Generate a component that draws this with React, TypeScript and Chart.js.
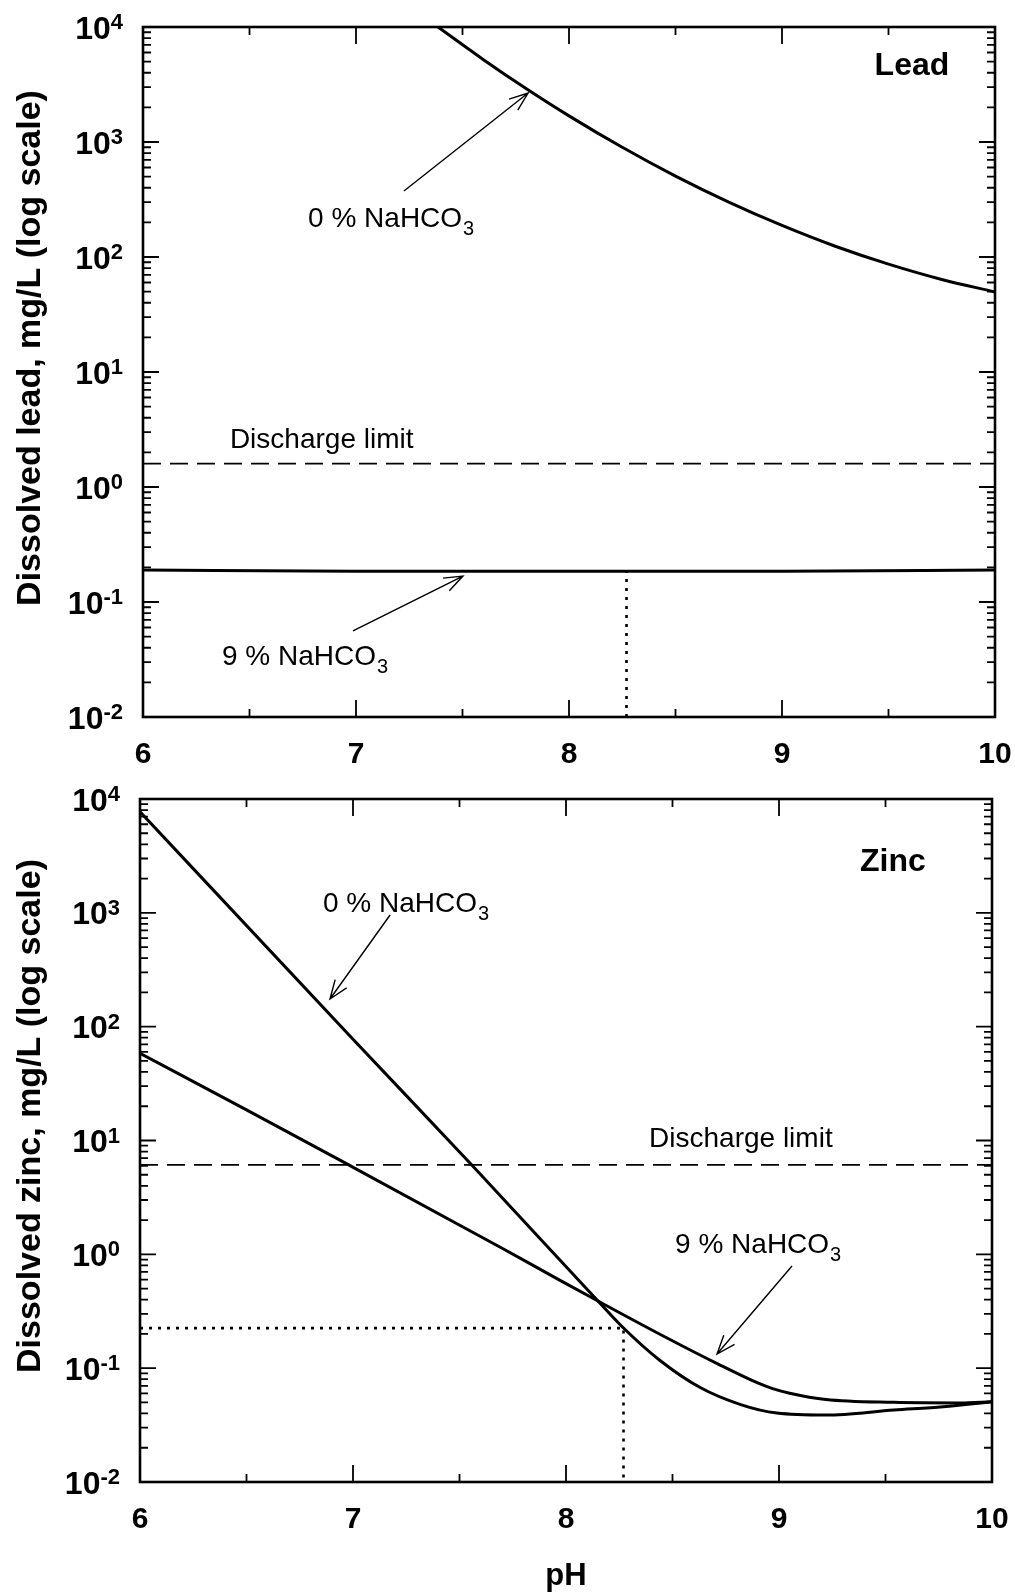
import React, { useEffect, useRef } from "react";
import { Chart, registerables } from "chart.js";

Chart.register(...registerables);

// ---------------- Data ----------------
const PH_MAJOR = [6, 7, 8, 9, 10];
const PH_MINOR = [6.5, 7.5, 8.5, 9.5];
const DECADES = [0.01, 0.1, 1, 10, 100, 1000, 10000];
const DECADE_EXP = ["-2", "-1", "0", "1", "2", "3", "4"];
const MINOR_MULT = [2, 3, 4, 5, 6, 7, 8, 9];

// Lead, 0 % NaHCO3
const leadPH0 = [7.385, 7.6, 7.8, 8.0, 8.25, 8.5, 8.75, 9.0, 9.25, 9.5, 9.75, 10.0];
const leadVal0 = [10000, 5174, 2904, 1687, 899, 505, 300, 188, 124, 86.7, 63.8, 49.7];
// Lead, 9 % NaHCO3
const leadPH9 = [6.0, 7.0, 8.0, 9.0, 10.0];
const leadVal9 = [0.19, 0.185, 0.185, 0.185, 0.19];
// Lead discharge limit
const leadLimitPH = [6, 10];
const leadLimitVal = [1.6, 1.6];
// Lead dotted marker (pH 8.27)
const leadDotPH = [8.27, 8.27];
const leadDotVal = [0.01, 0.185];

// Zinc, 0 % NaHCO3
const zincPH0 = [6.0, 7.0, 7.56, 8.15, 8.27, 8.44, 8.63, 8.82, 8.99, 9.22, 9.54, 9.77, 10.0];
const zincVal0 = [7727, 77.6, 6.03, 0.389, 0.2254, 0.1175, 0.0676, 0.0479, 0.0403, 0.0387, 0.0429, 0.0458, 0.0507];
// Zinc, 9 % NaHCO3
const zincPH9 = [6.0, 6.5, 6.98, 7.7, 7.97, 8.15, 8.47, 8.71, 8.9, 8.97, 9.05, 9.22, 9.54, 9.85, 10.0];
const zincVal9 = [58.3, 18.6, 6.1, 1.13, 0.594, 0.389, 0.186, 0.1096, 0.0741, 0.0661, 0.0603, 0.0531, 0.0501, 0.0495, 0.0507];
// Zinc discharge limit
const zincLimitPH = [6, 10];
const zincLimitVal = [6.1, 6.1];
// Zinc dotted marker
const zincDotPH = [6, 8.27, 8.27];
const zincDotVal = [0.225, 0.225, 0.01];

const FONT = '"Liberation Sans", Arial, Helvetica, sans-serif';
const W = 1015;

type Pt = { x: number; y: number };
const zip = (xs: number[], ys: number[]): Pt[] => xs.map((x, i) => ({ x, y: ys[i] }));

interface Note {
  text: string;
  sub?: string;
  x: number;
  y: number;
  bold?: boolean;
  size: number;
  align: CanvasTextAlign;
  middle?: boolean;
}
interface Arrow {
  x1: number;
  y1: number;
  x2: number;
  y2: number;
}
interface Area {
  left: number;
  right: number;
  top: number;
  bottom: number;
}
interface PanelProps {
  height: number;
  top: number;
  area: Area;
  datasets: any[];
  yTitle: string;
  yTitleCenter: number;
  xTitle?: string;
  xTitleBaseline?: number;
  notes: Note[];
  arrows: Arrow[];
}

const solid = (data: Pt[]) => ({
  data,
  borderColor: "#000",
  borderWidth: 3,
  pointRadius: 0,
  fill: false,
  cubicInterpolationMode: "monotone",
});
const dashed = (data: Pt[]) => ({
  data,
  borderColor: "#000",
  borderWidth: 1.8,
  borderDash: [18, 9],
  pointRadius: 0,
  fill: false,
  tension: 0,
});
const dotted = (data: Pt[]) => ({
  data,
  borderColor: "#000",
  borderWidth: 2.6,
  borderDash: [3, 6],
  pointRadius: 0,
  fill: false,
  tension: 0,
});

function Panel(props: PanelProps) {
  const ref = useRef<HTMLCanvasElement | null>(null);
  useEffect(() => {
    const canvas = ref.current;
    if (!canvas) return;
    const { area, height } = props;
    const decor = {
      id: "decor",
      afterDatasetsDraw(chart: any) {
        const ctx: CanvasRenderingContext2D = chart.ctx;
        const xs = chart.scales.x;
        const ys = chart.scales.y;
        const { left, right, top, bottom } = chart.chartArea;
        ctx.save();
        ctx.strokeStyle = "#000";
        ctx.fillStyle = "#000";
        // ticks
        ctx.lineWidth = 1.8;
        ctx.beginPath();
        DECADES.forEach((d) => {
          const y = ys.getPixelForValue(d);
          ctx.moveTo(left, y);
          ctx.lineTo(left + 16, y);
          ctx.moveTo(right, y);
          ctx.lineTo(right - 16, y);
        });
        DECADES.slice(0, -1).forEach((d) => {
          MINOR_MULT.forEach((m) => {
            const y = ys.getPixelForValue(d * m);
            ctx.moveTo(left, y);
            ctx.lineTo(left + 8, y);
            ctx.moveTo(right, y);
            ctx.lineTo(right - 8, y);
          });
        });
        PH_MAJOR.forEach((p) => {
          const x = xs.getPixelForValue(p);
          ctx.moveTo(x, bottom);
          ctx.lineTo(x, bottom - 17);
          ctx.moveTo(x, top);
          ctx.lineTo(x, top + 17);
        });
        PH_MINOR.forEach((p) => {
          const x = xs.getPixelForValue(p);
          ctx.moveTo(x, bottom);
          ctx.lineTo(x, bottom - 8);
          ctx.moveTo(x, top);
          ctx.lineTo(x, top + 8);
        });
        ctx.stroke();
        // frame
        ctx.lineWidth = 2.6;
        ctx.strokeRect(left, top, right - left, bottom - top);

        // y tick labels (10 with superscript exponent)
        const labelRight = left - 20;
        DECADES.forEach((d, i) => {
          const y = ys.getPixelForValue(d);
          const e = DECADE_EXP[i];
          ctx.font = `bold 22px ${FONT}`;
          const we = ctx.measureText(e).width;
          ctx.font = `bold 32px ${FONT}`;
          const w10 = ctx.measureText("10").width;
          ctx.textAlign = "left";
          ctx.textBaseline = "alphabetic";
          ctx.fillText("10", labelRight - we - w10, y + 11.5);
          ctx.font = `bold 22px ${FONT}`;
          ctx.fillText(e, labelRight - we, y + 2);
        });
        // x tick labels
        ctx.font = `bold 30px ${FONT}`;
        ctx.textAlign = "center";
        ctx.textBaseline = "alphabetic";
        PH_MAJOR.forEach((p) => {
          ctx.fillText(String(p), xs.getPixelForValue(p), bottom + 46);
        });
        // y title
        ctx.save();
        ctx.translate(31, props.yTitleCenter);
        ctx.rotate(-Math.PI / 2);
        ctx.textAlign = "center";
        ctx.textBaseline = "middle";
        ctx.font = `bold 34px ${FONT}`;
        ctx.fillText(props.yTitle, 0, 0);
        ctx.restore();
        // x title
        if (props.xTitle) {
          ctx.font = `bold 31px ${FONT}`;
          ctx.textAlign = "center";
          ctx.textBaseline = "alphabetic";
          ctx.fillText(props.xTitle, (left + right) / 2, props.xTitleBaseline || 0);
        }
        // notes
        props.notes.forEach((n) => {
          const x = xs.getPixelForValue(n.x);
          const y = ys.getPixelForValue(n.y);
          ctx.font = `${n.bold ? "bold " : ""}${n.size}px ${FONT}`;
          ctx.textAlign = n.align;
          ctx.textBaseline = n.middle ? "middle" : "alphabetic";
          ctx.fillText(n.text, x, y);
          if (n.sub) {
            const w = ctx.measureText(n.text).width;
            ctx.font = `${Math.round(n.size * 0.72)}px ${FONT}`;
            ctx.textAlign = "left";
            ctx.textBaseline = "alphabetic";
            ctx.fillText(n.sub, x + w + 1, y + 8);
          }
        });
        // arrows
        ctx.lineWidth = 1.4;
        props.arrows.forEach((a) => {
          const x1 = xs.getPixelForValue(a.x1);
          const y1 = ys.getPixelForValue(a.y1);
          const x2 = xs.getPixelForValue(a.x2);
          const y2 = ys.getPixelForValue(a.y2);
          const ang = Math.atan2(y2 - y1, x2 - x1);
          const L = 20;
          const s = 0.36;
          ctx.beginPath();
          ctx.moveTo(x1, y1);
          ctx.lineTo(x2, y2);
          ctx.moveTo(x2 - L * Math.cos(ang - s), y2 - L * Math.sin(ang - s));
          ctx.lineTo(x2, y2);
          ctx.lineTo(x2 - L * Math.cos(ang + s), y2 - L * Math.sin(ang + s));
          ctx.stroke();
        });
        ctx.restore();
      },
    };

    const chart = new Chart(canvas, {
      type: "line",
      data: { datasets: props.datasets },
      options: {
        responsive: false,
        animation: false,
        devicePixelRatio: 1,
        events: [],
        layout: { padding: { top: area.top, right: W - area.right, left: 0, bottom: 0 } },
        plugins: { legend: { display: false }, tooltip: { enabled: false } },
        scales: {
          x: {
            type: "linear",
            min: 6,
            max: 10,
            grid: { display: false },
            border: { display: false },
            ticks: { display: false },
            afterFit: (s: any) => {
              s.height = height - area.bottom;
            },
          },
          y: {
            type: "logarithmic",
            min: 0.01,
            max: 10000,
            grid: { display: false },
            border: { display: false },
            ticks: { display: false },
            afterFit: (s: any) => {
              s.width = area.left;
            },
          },
        },
      } as any,
      plugins: [decor],
    });
    return () => chart.destroy();
  }, []);
  return (
    <canvas
      ref={ref}
      width={W}
      height={props.height}
      style={{ position: "absolute", left: 0, top: props.top, width: W, height: props.height }}
    />
  );
}

export default function App() {
  useEffect(() => {
    document.body.style.margin = "0";
    document.body.style.background = "#fff";
  }, []);

  const leadDatasets = [
    solid(zip(leadPH0, leadVal0)),
    solid(zip(leadPH9, leadVal9)),
    dashed(zip(leadLimitPH, leadLimitVal)),
    dotted(zip(leadDotPH, leadDotVal)),
  ];
  const zincDatasets = [
    solid(zip(zincPH0, zincVal0)),
    solid(zip(zincPH9, zincVal9)),
    dashed(zip(zincLimitPH, zincLimitVal)),
    dotted(zip(zincDotPH, zincDotVal)),
  ];

  const leadNotes: Note[] = [
    { text: "Lead", x: 9.61, y: 4580, bold: true, size: 32, align: "center", middle: true },
    { text: "0 % NaHCO", sub: "3", x: 6.775, y: 182.4, size: 28, align: "left" },
    { text: "Discharge limit", x: 6.408, y: 2.18, size: 28, align: "left" },
    { text: "9 % NaHCO", sub: "3", x: 6.371, y: 0.0283, size: 28, align: "left" },
  ];
  const leadArrows: Arrow[] = [
    { x1: 7.225, y1: 375, x2: 7.808, y2: 2667 },
    { x1: 6.986, y1: 0.056, x2: 7.502, y2: 0.168 },
  ];
  const zincNotes: Note[] = [
    { text: "Zinc", x: 9.535, y: 2800, bold: true, size: 32, align: "center", middle: true },
    { text: "0 % NaHCO", sub: "3", x: 6.859, y: 1016, size: 28, align: "left" },
    { text: "Discharge limit", x: 8.39, y: 8.77, size: 28, align: "left" },
    { text: "9 % NaHCO", sub: "3", x: 8.512, y: 1.03, size: 28, align: "left" },
  ];
  const zincArrows: Arrow[] = [
    { x1: 7.174, y1: 957, x2: 6.892, y2: 175 },
    { x1: 9.061, y1: 0.789, x2: 8.709, y2: 0.133 },
  ];

  return (
    <div style={{ position: "relative", width: W, height: 1596, background: "#fff", overflow: "hidden" }}>
      <Panel
        height={770}
        top={0}
        area={{ left: 143, right: 995, top: 27, bottom: 717 }}
        datasets={leadDatasets}
        yTitle="Dissolved lead, mg/L (log scale)"
        yTitleCenter={348}
        notes={leadNotes}
        arrows={leadArrows}
      />
      <Panel
        height={826}
        top={770}
        area={{ left: 140, right: 992, top: 29, bottom: 712 }}
        datasets={zincDatasets}
        yTitle="Dissolved zinc, mg/L (log scale)"
        yTitleCenter={346}
        xTitle="pH"
        xTitleBaseline={815}
        notes={zincNotes}
        arrows={zincArrows}
      />
    </div>
  );
}
